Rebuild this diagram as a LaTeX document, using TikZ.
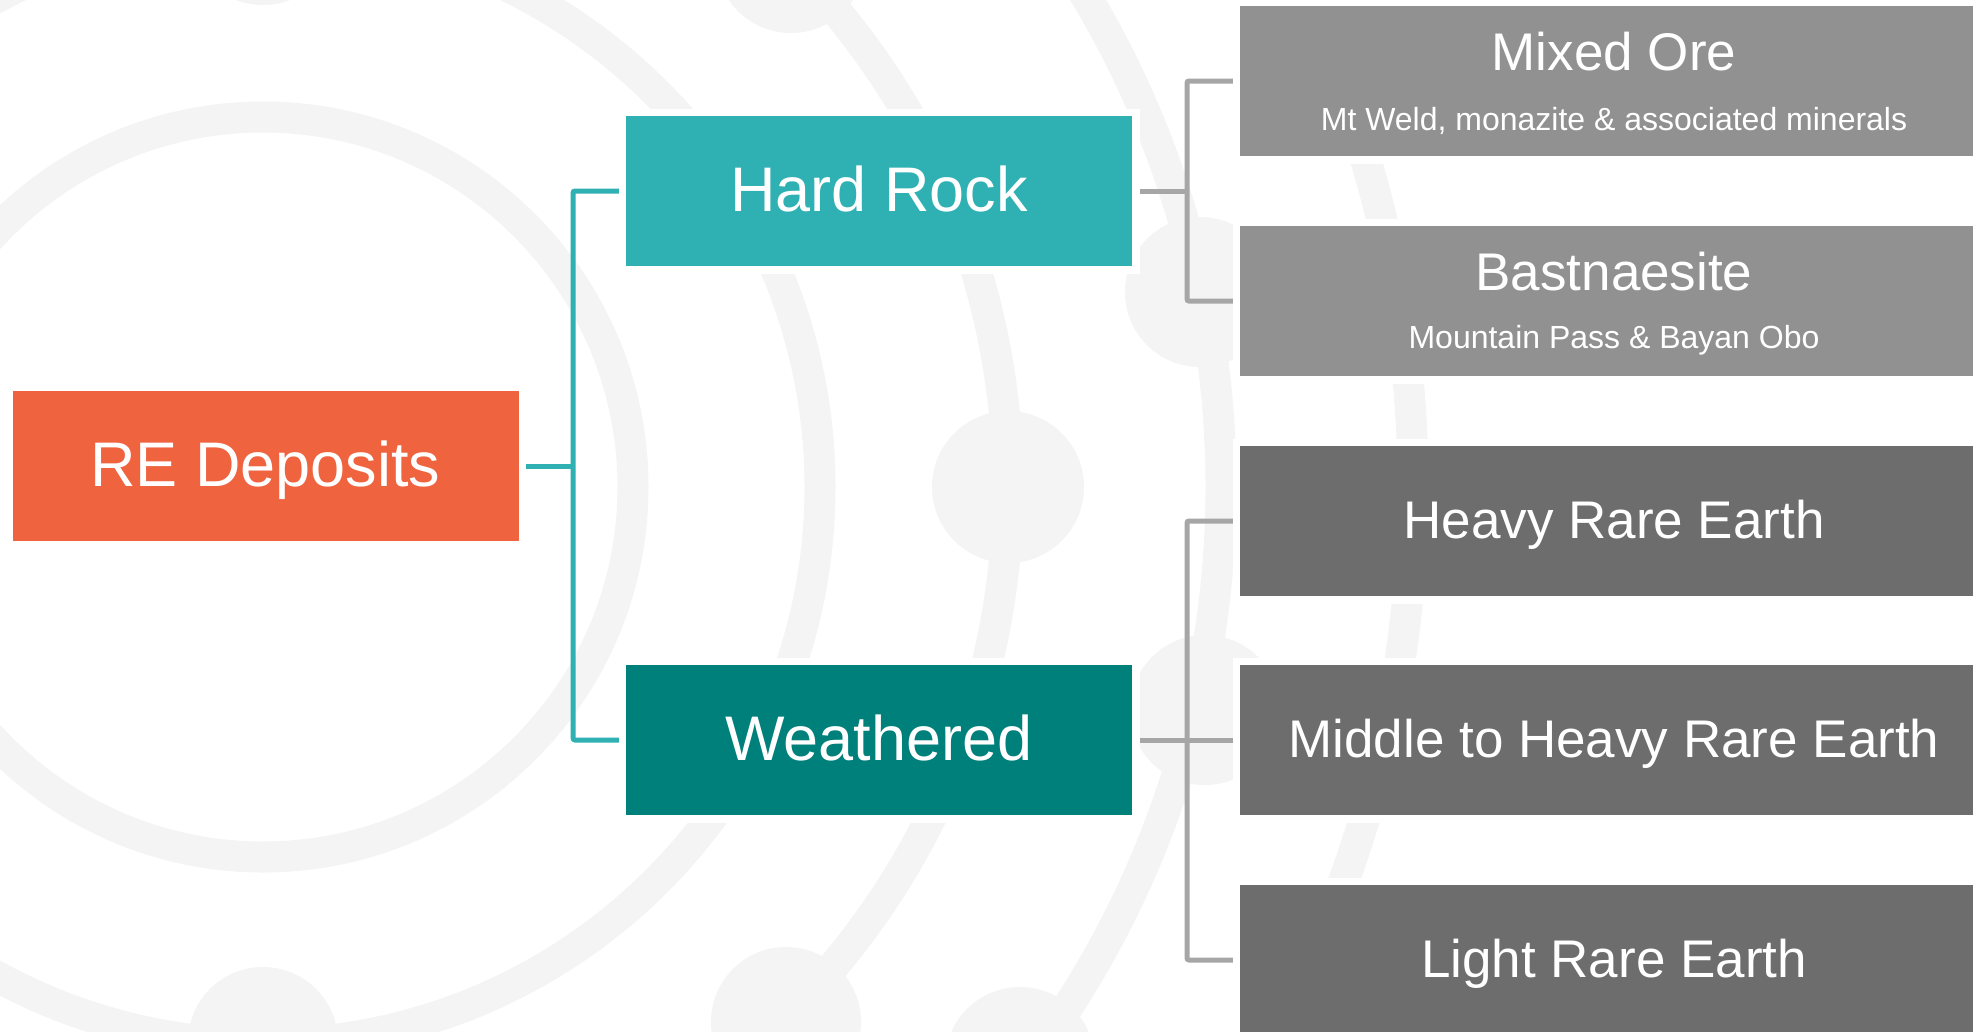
\documentclass[tikz,border=0pt]{standalone}
\usepackage{fontspec}
\setmainfont{Liberation Sans}
\definecolor{reorange}{HTML}{EF633F}
\definecolor{hardteal}{HTML}{2FB0B3}
\definecolor{weathteal}{HTML}{00807B}
\definecolor{greyA}{HTML}{919191}
\definecolor{greyB}{HTML}{6D6D6D}
\definecolor{conngrey}{HTML}{A6A6A6}
\definecolor{ringc}{HTML}{F4F4F4}
\tikzset{
  ringline/.style={draw=ringc, line width=31pt},
  ringdot/.style={fill=ringc},
  boxbase/.style={draw=white, line width=5pt, inner sep=0pt, text=white,
    minimum height=155pt, text depth=0pt},
  bigbox/.style={boxbase, minimum width=511pt, text height=40.6pt, font=\fontsize{63}{70}\selectfont},
  greybox/.style={boxbase, minimum width=753pt, text height=34pt, font=\fontsize{53}{60}\selectfont},
  titletext/.style={inner sep=0pt, anchor=base, text=white, font=\fontsize{53}{60}\selectfont},
  subtext/.style={inner sep=0pt, anchor=base, text=white, font=\fontsize{32}{38}\selectfont},
  tealconn/.style={draw=hardteal, line width=5pt, rounded corners=2pt},
  greyconn/.style={draw=conngrey, line width=5pt, rounded corners=2pt},
}
\begin{document}
\begin{tikzpicture}[x=1pt, y=-1pt]
\useasboundingbox (0,0) rectangle (1973,1031);
\begin{scope}
\clip (0,0) rectangle (1973,1031);
\fill[white] (0,0) rectangle (1973,1031);
% background rings
\draw[ringline] (263,487) circle[radius=370pt];
\draw[ringline] (263,487) circle[radius=557pt];
\draw[ringline] (263,487) circle[radius=745pt];
\draw[ringline] (263,487) circle[radius=958pt];
\draw[ringline] (263,487) circle[radius=1150pt];
\fill[ringdot] (263,-70) circle[radius=75pt];
\fill[ringdot] (263,1042) circle[radius=75pt];
\fill[ringdot] (1008,487) circle[radius=76pt];
\fill[ringdot] (791,-42) circle[radius=75pt];
\fill[ringdot] (786,1022) circle[radius=75pt];
\fill[ringdot] (1200,292) circle[radius=75pt];
\fill[ringdot] (1205,710) circle[radius=75pt];
\fill[ringdot] (1020,1062) circle[radius=75pt];

% junction coordinates
\coordinate (tj) at (573,466);
\coordinate (gj1) at (1187,191);
\coordinate (gj2) at (1187,740);

% nodes
\node[bigbox, fill=reorange] (re) at (265.5,466) {RE Deposits};
\node[bigbox, fill=hardteal] (hard) at (879,191) {Hard Rock};
\node[bigbox, fill=weathteal] (weath) at (879,740) {Weathered};
\node[greybox, fill=greyA] (mixed) at (1614,81) {};
\node[greybox, fill=greyA] (bast) at (1614,301) {};
\node[greybox, fill=greyB] (heavy) at (1614,521) {Heavy Rare Earth};
\node[greybox, fill=greyB] (middle) at (1614,740) {Middle to Heavy Rare Earth};
\node[greybox, fill=greyB] (light) at (1614,960) {Light Rare Earth};

% connectors
\draw[tealconn] (re.east) -- (tj);
\draw[tealconn] (hard.west) -| (tj) |- (weath.west);
\draw[greyconn] (hard.east) -- (gj1);
\draw[greyconn] (mixed.west) -| (gj1) |- (bast.west);
\draw[greyconn] (weath.east) -- (gj2);
\draw[greyconn] (heavy.west) -| (gj2) |- (light.west);
\draw[greyconn] (gj2) -- (middle.west);

% white borders over connector ends
\foreach \n in {re,hard,weath,mixed,bast,heavy,middle,light}{
  \draw[white, line width=5pt] (\n.north west) rectangle (\n.south east);
}

% texts of two-line boxes
\node[titletext] (mixedT) at (1614,70.7) {Mixed Ore};
\node[subtext] (mixedS) at (1614,130.5) {Mt Weld, monazite \& associated minerals};
\node[titletext] (bastT) at (1614,290.7) {Bastnaesite};
\node[subtext] (bastS) at (1614,348.5) {Mountain Pass \& Bayan Obo};
\end{scope}
\end{tikzpicture}
\end{document}
